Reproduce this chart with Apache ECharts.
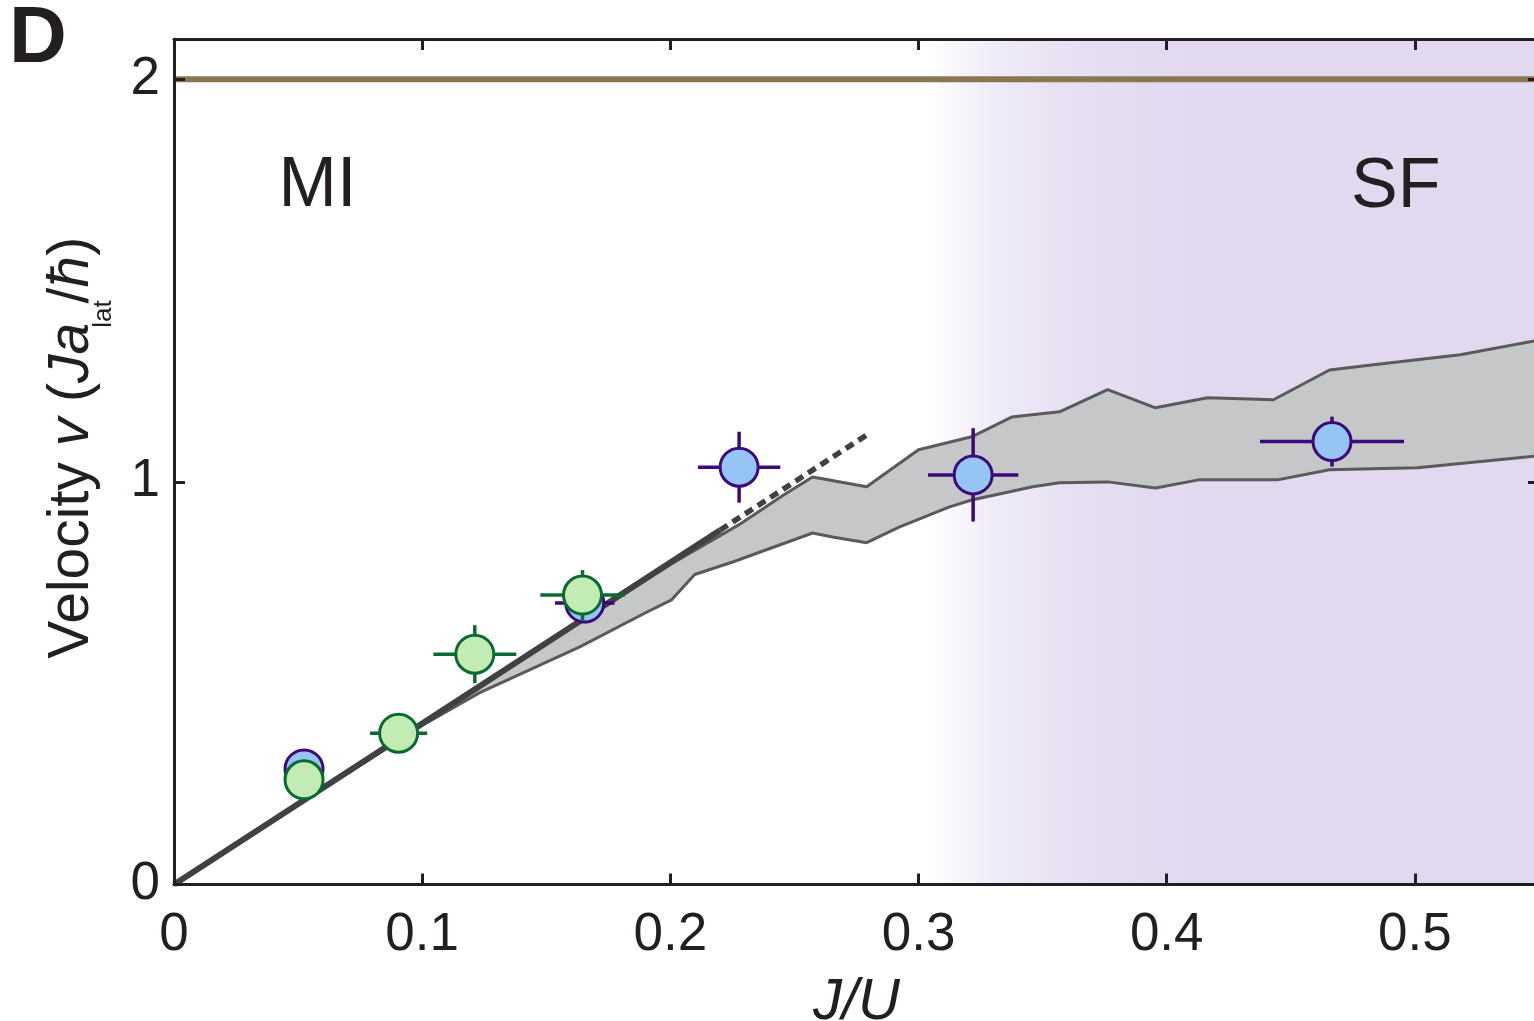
<!DOCTYPE html>
<html lang="en">
<head>
<meta charset="UTF-8">
<title>Velocity vs J/U</title>
<script src="https://cdn.jsdelivr.net/npm/echarts@6/dist/echarts.min.js"></script>
<style>
    html, body { margin: 0; padding: 0; background: #fff; }
    #chart { width: 1534px; height: 1021px; }
</style>
</head>
<body>
<div id="chart"></div>
<script>
// tick labels
var xTickValues = [0, 0.1, 0.2, 0.3, 0.4, 0.5];
var yTickValues = [0, 1, 2];

// theory band, [J/U, v]
var bandUpper = [[0, 0], [0.1, 0.4], [0.2, 0.795], [0.228, 0.895], [0.245, 0.965], [0.2573, 1.012],
    [0.2791, 0.988], [0.300, 1.080], [0.3214, 1.112], [0.3375, 1.161], [0.3568, 1.174], [0.3762, 1.229],
    [0.3955, 1.184], [0.4164, 1.209], [0.443, 1.204], [0.4656, 1.278], [0.4833, 1.291], [0.5183, 1.316],
    [0.55, 1.352]];
var bandLower = [[0, 0], [0.1, 0.395], [0.123, 0.476], [0.1635, 0.59], [0.19, 0.675], [0.2005, 0.707],
    [0.2098, 0.77], [0.2251, 0.801], [0.2573, 0.873], [0.2654, 0.863], [0.2791, 0.849], [0.2924, 0.888],
    [0.3125, 0.938], [0.3214, 0.955], [0.346, 0.988], [0.3568, 0.998], [0.3762, 1.0], [0.3955, 0.985],
    [0.4128, 1.005], [0.4446, 1.005], [0.4656, 1.030], [0.501, 1.035], [0.55, 1.065]];

// linear estimate in the MI regime
var linearSolid = [[0, 0], [0.22, 0.88]];
var linearDashed = [[0.22, 0.88], [0.28, 1.12]];

// upper limit line
var limitLine = [[0, 2], [0.55, 2]];

// measured points: [J/U, v, J err, v err]
var bluePoints = [[0.0524, 0.287, 0.006, 0.02], [0.1655, 0.699, 0.012, 0.05],
    [0.2277, 1.0365, 0.0166, 0.088], [0.322, 1.0174, 0.0182, 0.116], [0.4666, 1.100, 0.029, 0.062]];
var greenPoints = [[0.0524, 0.260, 0.005, 0.02], [0.0905, 0.3757, 0.0115, 0.02],
    [0.1212, 0.572, 0.0167, 0.072], [0.1646, 0.719, 0.017, 0.062]];

// region labels
var regionLabels = [{ name: 'MI', value: [0.0578, 1.732] }, { name: 'SF', value: [0.4923, 1.730] }];
var sfStart = 0.3025;

var FONT = '"Liberation Sans", Arial, Helvetica, sans-serif';
var INK = '#231f20';

var chart = echarts.init(document.getElementById('chart'));

function isTick(list, v) {
    for (var i = 0; i < list.length; i++) {
        if (Math.abs(list[i] - v) < 1e-9) return true;
    }
    return false;
}

function errorBars(color) {
    return function (params, api) {
        var x = api.value(0), y = api.value(1), ex = api.value(2), ey = api.value(3);
        var l = api.coord([x - ex, y]), r = api.coord([x + ex, y]);
        var t = api.coord([x, y + ey]), b = api.coord([x, y - ey]);
        var st = { stroke: color, lineWidth: 3.5 };
        return {
            type: 'group',
            children: [
                { type: 'line', shape: { x1: l[0], y1: l[1], x2: r[0], y2: r[1] }, style: st },
                { type: 'line', shape: { x1: t[0], y1: t[1], x2: b[0], y2: b[1] }, style: st }
            ]
        };
    };
}

var frameAxis = {
    min: 0,
    axisLine: { show: true, onZero: false, lineStyle: { color: INK, width: 3 } },
    axisTick: { show: true, inside: true, length: 11, lineStyle: { color: INK, width: 3 } },
    splitLine: { show: false },
    z: 10
};

var option = {
    animation: false,
    backgroundColor: '#fff',
    grid: { left: 174, right: -5, top: 39, bottom: 136.5, outerBoundsMode: 'none', containLabel: false },
    graphic: [{
        type: 'text', left: 9, top: 0,
        style: { text: 'D', font: 'bold 80px ' + FONT, fill: INK }
    }],
    xAxis: [
        Object.assign({}, frameAxis, {
            type: 'value', position: 'bottom', max: 0.55, interval: 0.1,
            name: 'J/U', nameLocation: 'middle', nameGap: 89,
            nameTextStyle: { fontSize: 58, fontStyle: 'italic', color: INK, fontFamily: FONT },
            axisLabel: {
                margin: 24, fontSize: 53, color: INK, fontFamily: FONT,
                formatter: function (v) { return isTick(xTickValues, v) ? String(+v.toFixed(1)) : ''; }
            }
        }),
        Object.assign({}, frameAxis, {
            type: 'value', position: 'top', max: 0.55, interval: 0.1,
            axisLabel: { show: false }
        })
    ],
    yAxis: [
        Object.assign({}, frameAxis, {
            type: 'value', position: 'left', max: 2.1, interval: 1,
            name: 'Velocity {i|v} ({i|Ja}{s|lat}/{i|ħ})', nameLocation: 'middle', nameGap: 57,
            nameTextStyle: {
                fontSize: 57, color: INK, fontFamily: FONT, padding: [0, 0, 0, 28],
                rich: {
                    i: { fontSize: 57, fontStyle: 'italic', color: INK, fontFamily: FONT },
                    s: { fontSize: 26, color: INK, fontFamily: FONT, padding: [64, -3, 0, -5] }
                }
            },
            axisLabel: {
                margin: 14, fontSize: 53, color: INK, fontFamily: FONT,
                formatter: function (v) { return isTick(yTickValues, v) ? String(Math.round(v)) : ''; }
            }
        }),
        Object.assign({}, frameAxis, {
            type: 'value', position: 'right', max: 2.1, interval: 1,
            axisLabel: { show: false }
        })
    ],
    series: [
        {
            // limit line, carries the SF shading
            type: 'line', z: 1, data: limitLine, symbol: 'none', silent: true,
            lineStyle: { color: '#8a7650', width: 6 },
            markArea: {
                silent: true,
                itemStyle: {
                    color: {
                        type: 'linear', x: 0, y: 0, x2: 1, y2: 0,
                        colorStops: [
                            { offset: 0, color: 'rgba(226,217,240,0)' },
                            { offset: 0.12, color: 'rgba(226,217,240,0.55)' },
                            { offset: 0.25, color: 'rgba(226,217,240,0.85)' },
                            { offset: 0.42, color: 'rgba(226,217,240,1)' },
                            { offset: 1, color: 'rgba(226,217,240,1)' }
                        ]
                    }
                },
                data: [[{ xAxis: sfStart, yAxis: 0 }, { xAxis: 0.55, yAxis: 2.1 }]]
            }
        },
        {
            type: 'custom', z: 2, silent: true, data: [[0, 0]],
            encode: { x: 0, y: 1 },
            renderItem: function (params, api) {
                var pts = bandUpper.concat(bandLower.slice().reverse()).map(function (p) { return api.coord(p); });
                return { type: 'polygon', shape: { points: pts }, style: { fill: '#c6c7c9' } };
            }
        },
        {
            type: 'line', z: 3, data: bandUpper, symbol: 'none', silent: true,
            lineStyle: { color: '#5a5a5c', width: 3 }
        },
        {
            type: 'line', z: 3, data: bandLower, symbol: 'none', silent: true,
            lineStyle: { color: '#5a5a5c', width: 3 }
        },
        {
            type: 'line', z: 4, data: linearSolid, symbol: 'none', silent: true,
            lineStyle: { color: '#414143', width: 6 }
        },
        {
            type: 'line', z: 4, data: linearDashed, symbol: 'none', silent: true,
            lineStyle: { color: '#414143', width: 5.5, type: [9, 6] }
        },
        {
            type: 'custom', z: 5, data: bluePoints, encode: { x: 0, y: 1 },
            renderItem: errorBars('#3b0a78')
        },
        {
            type: 'scatter', z: 6, data: bluePoints, symbolSize: 38,
            itemStyle: { color: '#95c5f5', borderColor: '#3b0a78', borderWidth: 3, opacity: 1 }
        },
        {
            type: 'custom', z: 7, data: greenPoints, encode: { x: 0, y: 1 },
            renderItem: errorBars('#0b6a32')
        },
        {
            type: 'scatter', z: 8, data: greenPoints, symbolSize: 38,
            itemStyle: { color: '#c3ebb4', borderColor: '#0b6a32', borderWidth: 3, opacity: 1 }
        },
        {
            type: 'scatter', z: 9, data: regionLabels, symbolSize: 0, silent: true,
            itemStyle: { opacity: 1 },
            label: {
                show: true, position: 'inside', formatter: '{b}', opacity: 1,
                fontSize: 70, color: INK, fontFamily: FONT, textBorderWidth: 0
            }
        }
    ]
};

chart.setOption(option);
</script>
</body>
</html>
